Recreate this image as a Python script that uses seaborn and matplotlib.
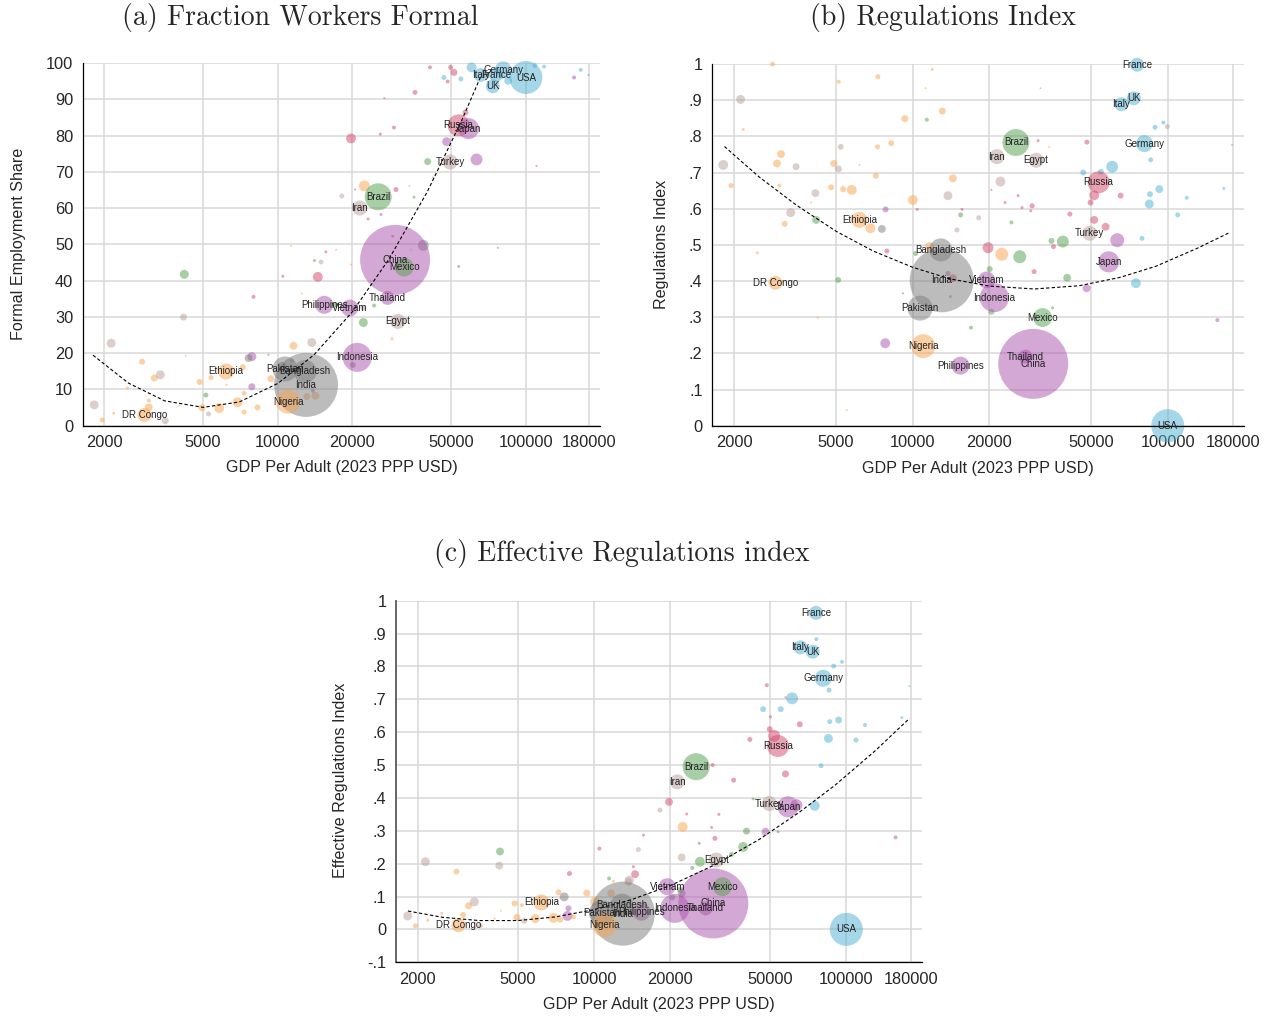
import numpy as np
import pandas as pd
import seaborn as sns
import matplotlib.pyplot as plt
from matplotlib.ticker import NullLocator

sns.set_style("white")
plt.rcParams['font.family'] = ['Liberation Sans', 'DejaVu Sans']

# region colours (drawn at alpha 0.5)
palette = {'HI': '#4FB1D5', 'ECA': '#D34769', 'LAC': '#539F4D', 'EAP': '#AB53AD',
           'SA': '#7B7B7B', 'SSA': '#FBA34D', 'MENA': '#BBA199'}

# labelled countries: GDP per adult, region, adult population (millions)
names = ['USA', 'Germany', 'France', 'UK', 'Italy', 'Russia', 'Japan', 'Turkey',
         'Brazil', 'Iran', 'Egypt', 'China', 'Mexico', 'Thailand', 'Vietnam',
         'Philippines', 'Indonesia', 'Bangladesh', 'India', 'Pakistan', 'Nigeria',
         'Ethiopia', 'DR Congo']
named_gdp = [100000, 81000, 75800, 73600, 65800, 53600, 58700, 49500,
             25400, 21400, 30500, 29700, 32300, 27700, 19500,
             15400, 20900, 12900, 13000, 10700, 11000, 6190, 2900]
named_region = ['HI', 'HI', 'HI', 'HI', 'HI', 'ECA', 'EAP', 'MENA',
                'LAC', 'MENA', 'MENA', 'EAP', 'LAC', 'EAP', 'EAP',
                'EAP', 'EAP', 'SA', 'SA', 'SA', 'SSA', 'SSA', 'SSA']
named_pop = [246, 65, 44, 44, 44, 109, 100, 51, 164, 51, 51, 1104, 80, 44, 65,
             73, 190, 119, 923, 141, 130, 58, 44]
named_formal = [96.0, 98.1, 96.7, 93.6, 96.7, 82.8, 81.9, 72.7, 63.1, 60.0, 28.7,
                45.7, 43.7, 35.2, 32.4, 33.3, 18.8, 14.9, 11.2, 15.6, 6.6, 14.9, 2.9]
named_reg = [0.0, 0.78, 0.998, 0.905, 0.889, 0.673, 0.453, 0.532, 0.783, 0.744, 0.734,
             0.171, 0.299, 0.191, 0.403, 0.166, 0.354, 0.486, 0.402, 0.325, 0.22, 0.569, 0.395]
named_eff = [0.0, 0.764, 0.963, 0.845, 0.858, 0.558, 0.373, 0.383, 0.495, 0.449, 0.211,
             0.079, 0.130, 0.064, 0.130, 0.054, 0.064, 0.074, 0.048, 0.05, 0.013, 0.082, 0.013]

# other (unlabelled) countries, panel (a)
a_gdp = [4200, 10480, 14500, 14050, 14950, 11300, 41060, 49730, 51290, 46740,
         48370, 54720, 60420, 84860, 108670, 118450, 166450, 156430, 178800, 35730,
         26880, 29410, 25900, 19740, 47920, 57150, 40190, 63280, 22340, 29960,
         33890, 18110, 20490, 35400, 42340, 26070, 23120, 38590, 15620, 17180,
         53570, 77130, 19740, 34430, 29050, 110400, 22130, 24430, 28860, 13720,
         13100, 14180, 13850, 20060, 17000, 22130, 4170, 7980, 12500, 4250,
         2130, 2840, 3180, 3360, 2480, 3020, 1820, 1960, 2180, 3520,
         3020, 4010, 4840, 5380, 5130, 4950, 5260, 5810, 6220, 6880,
         7230, 7320, 7320, 8280, 7860, 7620, 7860, 9170, 11570, 9380,
         10390, 11400]
a_val = [41.7, 41.2, 41.0, 45.5, 45.1, 49.5, 98.8, 98.8, 97.4, 96.0,
         94.9, 95.6, 98.8, 95.1, 99.3, 99.0, 98.1, 96.0, 96.7, 91.9,
         90.3, 82.2, 80.4, 79.2, 78.3, 86.4, 72.8, 73.4, 66.1, 65.1,
         66.1, 63.3, 65.1, 63.0, 68.4, 58.2, 57.0, 49.7, 47.9, 48.5,
         43.9, 49.0, 44.4, 48.5, 52.2, 71.6, 28.4, 33.1, 23.9, 22.9,
         8.0, 8.2, 9.6, 16.7, 33.3, 32.5, 29.9, 35.5, 36.4, 19.2,
         22.7, 17.6, 13.1, 14.0, 10.4, 6.9, 5.7, 1.5, 3.4, 1.3,
         5.0, 5.5, 12.0, 13.2, 8.4, 4.9, 3.2, 4.8, 11.2, 6.4,
         16.1, 8.9, 3.7, 5.0, 19.0, 18.6, 10.7, 19.5, 22.0, 12.9,
         16.3, 17.9]
a_reg = ['LAC', 'ECA', 'ECA', 'LAC', 'MENA', 'SSA', 'ECA', 'ECA', 'ECA', 'HI',
         'ECA', 'HI', 'HI', 'HI', 'HI', 'HI', 'HI', 'EAP', 'HI', 'ECA',
         'ECA', 'ECA', 'ECA', 'ECA', 'EAP', 'ECA', 'LAC', 'EAP', 'SSA', 'ECA',
         'SSA', 'MENA', 'ECA', 'LAC', 'LAC', 'EAP', 'ECA', 'SA', 'ECA', 'SSA',
         'LAC', 'LAC', 'SSA', 'SSA', 'ECA', 'ECA', 'LAC', 'LAC', 'SSA', 'MENA',
         'SSA', 'SSA', 'EAP', 'SA', 'LAC', 'MENA', 'MENA', 'ECA', 'SSA', 'SSA',
         'MENA', 'SSA', 'SSA', 'MENA', 'SSA', 'SSA', 'MENA', 'SSA', 'SSA', 'MENA',
         'SSA', 'SSA', 'SSA', 'SSA', 'LAC', 'SSA', 'MENA', 'SSA', 'SSA', 'SSA',
         'SSA', 'SSA', 'SSA', 'SSA', 'EAP', 'SA', 'EAP', 'EAP', 'SSA', 'SSA',
         'SA', 'LAC']
a_pop = [18, 2, 22, 2, 5, 1, 3.6, 5.6, 11, 5.6,
         3.6, 5.6, 22, 14, 5.6, 3.6, 3.6, 3.6, 1, 5.6,
         1, 3.6, 2, 22, 18, 8, 11, 32, 27, 5.6,
         1, 5.6, 1, 2, 1, 2, 2, 27, 2, 1,
         2, 1, 1, 1, 2, 1, 18, 3.6, 2, 18,
         11, 14, 3.6, 8, 5.6, 8, 11, 3.6, 1, 1,
         18, 8, 11, 18, 2, 3.6, 18, 5.6, 2, 11,
         14, 1, 8, 5.6, 5.6, 11, 5.6, 22, 1, 22,
         8, 5.6, 5.6, 8, 18, 14, 11, 1, 14, 11,
         18, 3.6]

# other countries, panel (b)
b_gdp = [2828, 2117, 2169, 1810, 1941, 3050, 2942, 3004, 3493, 3151,
         3327, 4001, 4159, 4186, 4794, 4908, 5120, 5134, 5228, 5343,
         5774, 6839, 7575, 6192, 7306, 7286, 7175, 8247, 7833, 7925,
         9325, 10023, 10430, 11376, 11240, 11946, 13078, 14389, 13754, 22088,
         15428, 18155, 15610, 14920, 20364, 25905, 23035, 26855, 29399, 29055,
         24404, 31033, 34276, 48212, 46627, 54708, 60592, 51498, 65362, 49850,
         41342, 51498, 57077, 63387, 38805, 35026, 35664, 19749, 22349, 26303,
         29932, 20056, 40345, 75055, 85200, 92660, 84660, 118740, 109420, 79250,
         165850, 89125, 96070, 99610, 85740, 48083, 156500, 16935, 20364, 35345,
         14389, 14055, 2462, 5106, 4248, 5520, 7811, 10271, 9159, 11657,
         13754, 178700, 31700]
b_val = [1.0, 0.902, 0.819, 0.721, 0.664, 0.751, 0.725, 0.664, 0.716, 0.558,
         0.589, 0.617, 0.643, 0.569, 0.659, 0.725, 0.710, 0.951, 0.771, 0.654,
         0.652, 0.546, 0.544, 0.721, 0.965, 0.771, 0.691, 0.781, 0.598, 0.483,
         0.849, 0.624, 0.598, 0.846, 0.933, 0.985, 0.870, 0.684, 0.636, 0.675,
         0.583, 0.575, 0.598, 0.541, 0.652, 0.636, 0.617, 0.603, 0.608, 0.594,
         0.562, 0.788, 0.771, 0.784, 0.700, 0.702, 0.716, 0.637, 0.636, 0.617,
         0.585, 0.569, 0.550, 0.513, 0.509, 0.511, 0.495, 0.492, 0.474, 0.467,
         0.426, 0.433, 0.409, 0.394, 0.640, 0.654, 0.613, 0.630, 0.583, 0.518,
         0.656, 0.825, 0.838, 0.827, 0.735, 0.380, 0.292, 0.271, 0.315, 0.326,
         0.408, 0.357, 0.478, 0.403, 0.299, 0.043, 0.228, 0.476, 0.366, 0.495,
         0.421, 0.776, 0.933]
b_reg = ['SSA', 'MENA', 'SSA', 'MENA', 'SSA', 'SSA', 'SSA', 'SSA', 'MENA', 'SSA',
         'MENA', 'SSA', 'MENA', 'LAC', 'SSA', 'SSA', 'MENA', 'SSA', 'MENA', 'SSA',
         'SSA', 'SSA', 'SA', 'SSA', 'SSA', 'SSA', 'SSA', 'SSA', 'EAP', 'ECA',
         'SSA', 'SSA', 'ECA', 'LAC', 'SSA', 'SSA', 'SSA', 'SSA', 'MENA', 'MENA',
         'LAC', 'MENA', 'ECA', 'MENA', 'ECA', 'ECA', 'ECA', 'ECA', 'ECA', 'ECA',
         'LAC', 'ECA', 'SSA', 'ECA', 'HI', 'HI', 'HI', 'ECA', 'ECA', 'ECA',
         'ECA', 'ECA', 'ECA', 'EAP', 'LAC', 'LAC', 'ECA', 'ECA', 'SSA', 'LAC',
         'ECA', 'LAC', 'LAC', 'HI', 'HI', 'HI', 'HI', 'HI', 'HI', 'HI',
         'HI', 'HI', 'HI', 'MENA', 'HI', 'EAP', 'EAP', 'LAC', 'LAC', 'LAC',
         'ECA', 'LAC', 'SSA', 'LAC', 'SSA', 'SSA', 'EAP', 'LAC', 'EAP', 'SSA',
         'EAP', 'HI', 'HI']
b_pop = [5.6, 18, 2, 22, 5.6, 14, 14, 3.6, 11, 8,
         18, 1, 14, 14, 8, 11, 11, 3.6, 8, 8,
         22, 22, 14, 1, 5.6, 5.6, 8, 8, 8, 5.6,
         11, 22, 2, 3.6, 1, 2, 11, 14, 18, 22,
         5.6, 5.6, 2, 5.6, 1, 2, 2, 2, 5.6, 2,
         3.6, 2, 1, 5.6, 8, 8, 32, 22, 8, 8,
         5.6, 14, 14, 44, 32, 8, 5.6, 27, 38, 38,
         5.6, 8, 14, 22, 8, 14, 18, 3.6, 5.6, 5.6,
         2, 5.6, 3.6, 5.6, 5.6, 14, 3.6, 3.6, 8, 2,
         14, 2, 2, 8, 1, 1, 22, 5.6, 1, 18,
         5.6, 1, 0.8]

# other countries, panel (c)
c_gdp = [1825, 1959, 2145, 2846, 2191, 2489, 3024, 3183, 3353, 3541,
         4034, 4276, 4238, 4211, 4841, 5177, 4947, 5287, 5845, 6906,
         7228, 7340, 7612, 7989, 7845, 7917, 8286, 9362, 10098, 10500,
         11470, 11930, 11680, 13677, 19820, 18260, 15681, 14985, 14540, 14317,
         13804, 22453, 22251, 26118, 30138, 29244, 31255, 23290, 26287, 24505,
         35086, 39006, 40230, 47826, 53640, 74950, 63440, 42721, 156760, 21910,
         22251, 20425, 48395, 57380, 60950, 46792, 54970, 50053, 65380, 49730,
         51718, 41458, 76120, 89120, 96120, 85390, 85930, 93270, 118560, 84920,
         109200, 166040, 79370, 178130, 57380, 35736, 29512]
c_val = [0.041, 0.011, 0.206, 0.176, 0.028, 0.049, 0.044, 0.072, 0.084, 0.011,
         0.033, 0.057, 0.237, 0.194, 0.079, 0.074, 0.037, 0.026, 0.033, 0.035,
         0.113, 0.030, 0.099, 0.170, 0.041, 0.064, 0.038, 0.111, 0.084, 0.246,
         0.155, 0.147, 0.110, 0.145, 0.388, 0.363, 0.287, 0.243, 0.168, 0.191,
         0.150, 0.312, 0.219, 0.262, 0.277, 0.310, 0.350, 0.351, 0.206, 0.187,
         0.228, 0.251, 0.299, 0.297, 0.297, 0.376, 0.378, 0.397, 0.280, 0.120,
         0.110, 0.097, 0.743, 0.706, 0.703, 0.670, 0.670, 0.647, 0.624, 0.609,
         0.589, 0.578, 0.883, 0.801, 0.814, 0.728, 0.632, 0.637, 0.622, 0.581,
         0.576, 0.644, 0.498, 0.740, 0.473, 0.454, 0.500]
c_reg = ['MENA', 'SSA', 'MENA', 'SSA', 'SSA', 'SSA', 'SSA', 'SSA', 'MENA', 'MENA',
         'SSA', 'SSA', 'LAC', 'MENA', 'SSA', 'SSA', 'SSA', 'MENA', 'SSA', 'SSA',
         'SSA', 'SSA', 'SA', 'ECA', 'EAP', 'EAP', 'SSA', 'SSA', 'SSA', 'ECA',
         'LAC', 'SSA', 'SSA', 'MENA', 'ECA', 'MENA', 'ECA', 'MENA', 'ECA', 'ECA',
         'MENA', 'SSA', 'MENA', 'EAP', 'ECA', 'ECA', 'ECA', 'ECA', 'LAC', 'LAC',
         'LAC', 'LAC', 'LAC', 'EAP', 'LAC', 'HI', 'EAP', 'LAC', 'EAP', 'LAC',
         'SA', 'SA', 'ECA', 'ECA', 'HI', 'HI', 'HI', 'ECA', 'ECA', 'ECA',
         'ECA', 'ECA', 'HI', 'HI', 'HI', 'HI', 'HI', 'HI', 'HI', 'HI',
         'HI', 'HI', 'HI', 'HI', 'ECA', 'ECA', 'ECA']
c_pop = [18, 5.6, 18, 8, 2, 2, 8, 11, 18, 5.6,
         1, 1, 14, 14, 8, 3.6, 11, 8, 18, 22,
         8, 8, 18, 5.6, 22, 8, 5.6, 11, 22, 3.6,
         3.6, 2, 14, 14, 14, 5.6, 2, 5.6, 14, 2,
         18, 22, 14, 2, 5.6, 2, 2, 2, 22, 3.6,
         5.6, 22, 11, 14, 2, 22, 32, 2, 3.6, 8,
         14, 8, 3.6, 1, 32, 8, 8, 2, 8, 8,
         32, 5.6, 3.6, 5.6, 3.6, 5.6, 5.6, 11, 3.6, 18,
         5.6, 2, 5.6, 1, 11, 5.6, 3.6]

# fitted quadratic trend
trend_a_gdp = [1800, 2500, 3500, 5000, 7000, 10000, 14000, 20000, 28000, 40000, 55000, 66000]
trend_a_val = [19.4, 11.7, 6.8, 5.0, 6.5, 11.6, 19.5, 31.4, 45.8, 64.4, 84.0, 96.5]
trend_b_gdp = [1830, 2500, 3500, 5000, 7000, 10000, 14000, 20000, 30000, 45000, 65000, 90000, 130000, 176000]
trend_b_val = [0.772, 0.688, 0.610, 0.538, 0.483, 0.438, 0.406, 0.386, 0.378, 0.387, 0.410, 0.441, 0.490, 0.535]
trend_c_gdp = [1830, 2500, 3500, 5000, 7000, 10000, 14000, 20000, 30000, 45000, 65000, 90000, 130000, 178000]
trend_c_val = [0.056, 0.037, 0.027, 0.027, 0.038, 0.060, 0.090, 0.133, 0.196, 0.273, 0.356, 0.438, 0.543, 0.642]

x_ticks = [2000, 5000, 10000, 20000, 50000, 100000, 180000]
x_ticklabels = ['2000', '5000', '10000', '20000', '50000', '100000', '180000']


def draw_panel(ax, o_gdp, o_val, o_reg, o_pop, n_val, t_gdp, t_val):
    df = pd.DataFrame({
        'gdp': list(o_gdp) + named_gdp,
        'val': list(o_val) + list(n_val),
        'region': list(o_reg) + named_region,
        'pop': list(o_pop) + named_pop,
    })
    sns.scatterplot(data=df, x='gdp', y='val', hue='region', palette=palette,
                    size='pop', sizes=(0, 2.3 * 1200), size_norm=(0, 1200),
                    alpha=0.5, linewidth=0, legend=False, ax=ax, clip_on=False)
    sns.lineplot(x=t_gdp, y=t_val, color='black', lw=0.8, linestyle=(0, (3, 2)),
                 sort=False, estimator=None, ax=ax, zorder=3)
    for name, g, v in zip(names, named_gdp, n_val):
        ax.text(g, v, name, ha='center', va='center', fontsize=7, color='#222222', zorder=4)
    ax.set_xscale('log')
    ax.set_xlim(1640, 199000)
    ax.set_xticks(x_ticks)
    ax.set_xticklabels(x_ticklabels)
    ax.xaxis.set_minor_locator(NullLocator())
    ax.grid(True, color='#d9d9d9', lw=1.1)
    ax.set_axisbelow(True)
    for s in ['top', 'right']:
        ax.spines[s].set_visible(False)
    for s in ['left', 'bottom']:
        ax.spines[s].set_color('black')
        ax.spines[s].set_linewidth(0.9)
    ax.tick_params(axis='both', labelsize=11.8, length=4, width=0.8, color='black', pad=3)
    ax.set_xlabel('GDP Per Adult (2023 PPP USD)', fontsize=11.6)


fig = plt.figure(figsize=(12.72, 10.18), dpi=100)

# (a)
ax_a = fig.add_axes([0.06525, 0.58202, 0.40645, 0.35609])
draw_panel(ax_a, a_gdp, a_val, a_reg, a_pop, named_formal, trend_a_gdp, trend_a_val)
ax_a.set_ylim(0, 100)
ax_a.set_yticks(range(0, 101, 10))
ax_a.set_ylabel('Formal Employment Share', fontsize=11.6)
ax_a.yaxis.set_label_coords(-0.1257, 0.5)
ax_a.xaxis.set_label_coords(0.5, -0.117)

# (b)
ax_b = fig.add_axes([0.55998, 0.58183, 0.418, 0.3553])
draw_panel(ax_b, b_gdp, b_val, b_reg, b_pop, named_reg, trend_b_gdp, trend_b_val)
ax_b.set_ylim(0, 1)
b_ticks = [i / 10 for i in range(11)]
ax_b.set_yticks(b_ticks)
ax_b.set_yticklabels(['0', '.1', '.2', '.3', '.4', '.5', '.6', '.7', '.8', '.9', '1'])
ax_b.set_ylabel('Regulations Index', fontsize=11.6)
ax_b.yaxis.set_label_coords(-0.0946, 0.5)
ax_b.xaxis.set_label_coords(0.5, -0.117)

# (c)
ax_c = fig.add_axes([0.31132, 0.05472, 0.41329, 0.35521])
draw_panel(ax_c, c_gdp, c_val, c_reg, c_pop, named_eff, trend_c_gdp, trend_c_val)
ax_c.set_ylim(-0.1, 1)
c_ticks = [i / 10 for i in range(-1, 11)]
ax_c.set_yticks(c_ticks)
ax_c.set_yticklabels(['-.1', '0', '.1', '.2', '.3', '.4', '.5', '.6', '.7', '.8', '.9', '1'])
ax_c.set_ylabel('Effective Regulations Index', fontsize=11.6)
ax_c.yaxis.set_label_coords(-0.1065, 0.504)
ax_c.xaxis.set_label_coords(0.5, -0.118)
ax_c.spines['left'].set_color('#666666')
ax_c.spines['left'].set_linewidth(1.4)

for ax in (ax_a, ax_b, ax_c):
    ax.xaxis.label.set_va('center')
    ax.yaxis.label.set_va('center')
    ax.yaxis.label.set_ha('center')

fig.text(300 / 1272, 1 - 17 / 1018, '(a) Fraction Workers Formal', family='cmr10',
         fontsize=20, ha='center', va='center')
fig.text(943 / 1272, 1 - 17 / 1018, '(b) Regulations Index', family='cmr10',
         fontsize=20, ha='center', va='center')
fig.text(622 / 1272, 1 - 553 / 1018, '(c) Effective Regulations index', family='cmr10',
         fontsize=20, ha='center', va='center')

fig.savefig('out.png', dpi=100)
